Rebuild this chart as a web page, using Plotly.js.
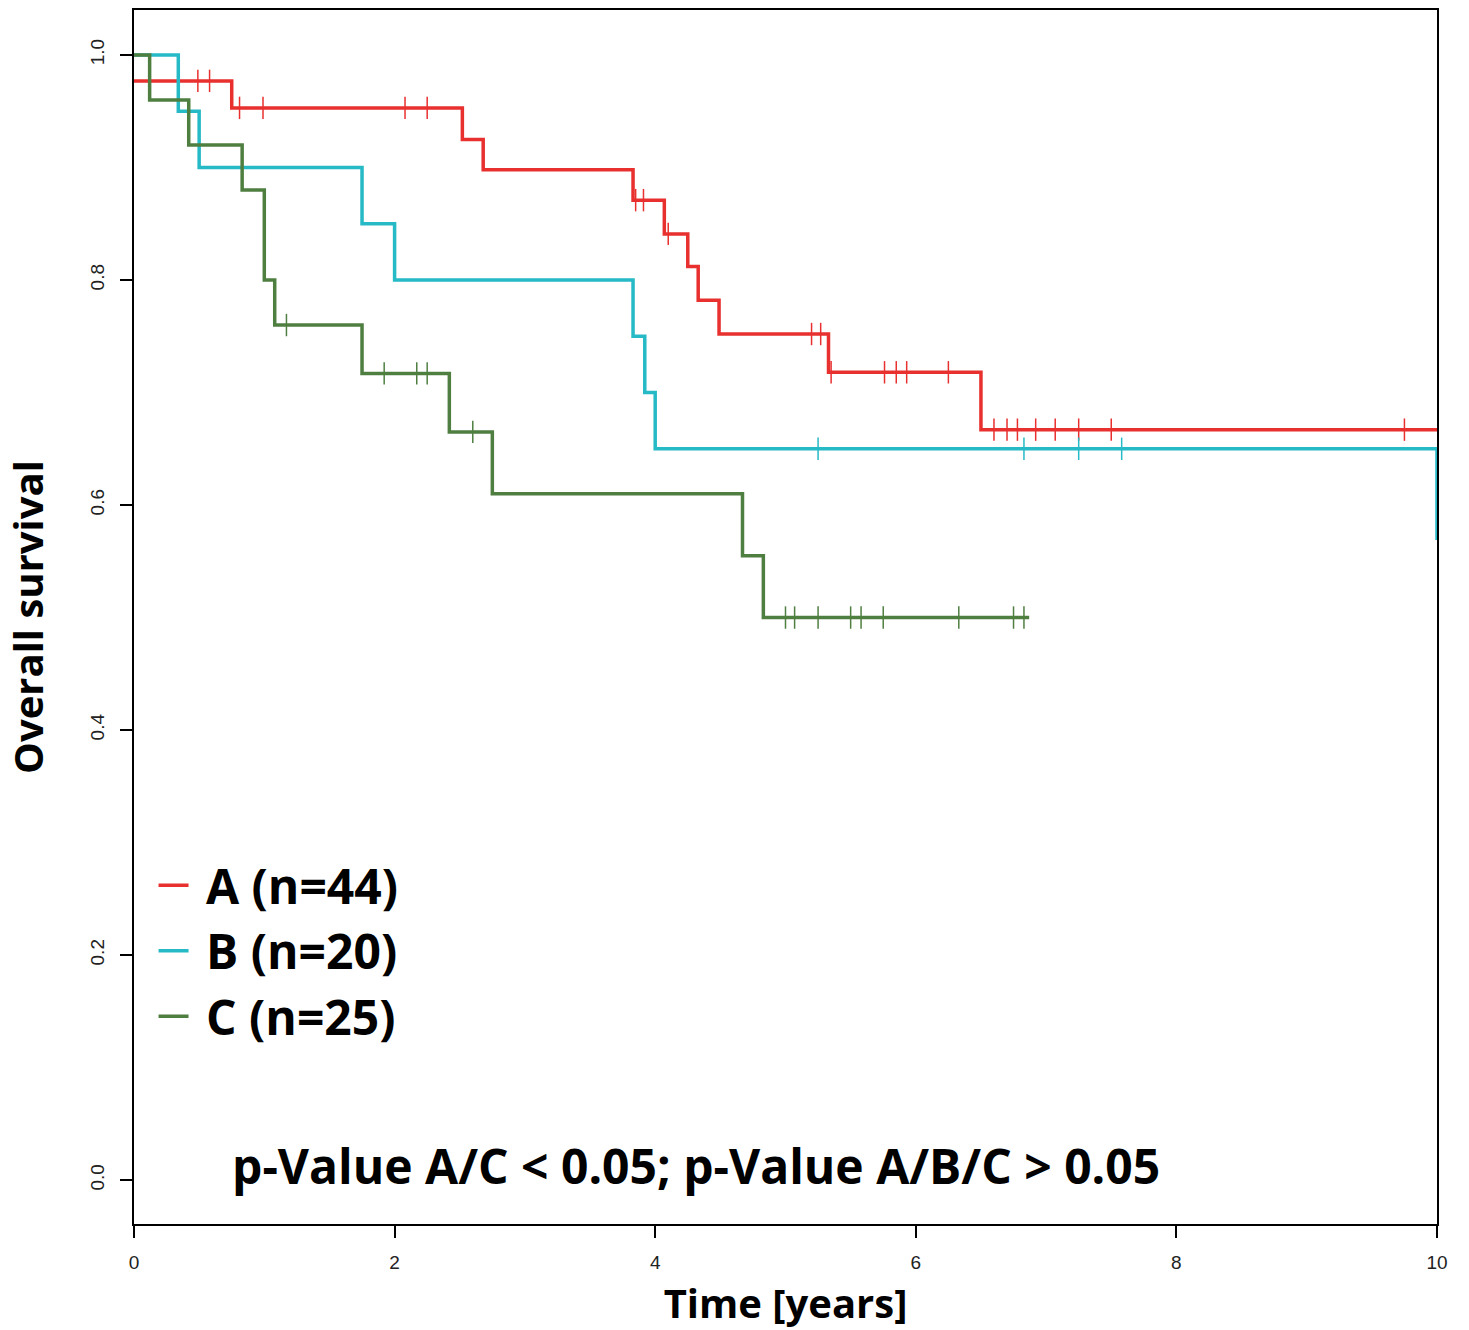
<!DOCTYPE html>
<html>
<head>
<meta charset="utf-8">
<script src="https://cdn.plot.ly/plotly-3.0.1.min.js"></script>
<style>body{margin:0;background:#fff}</style>
</head>
<body>
<div id="chart" style="width:1469px;height:1330px"></div>
<script>
// step vertices (time in years, survival)
const aTime = [0, 0.75, 2.52, 2.68, 3.83, 4.07, 4.25, 4.33, 4.49, 5.33, 6.5, 10];
const aSurv = [0.977, 0.953, 0.925, 0.898, 0.871, 0.841, 0.812, 0.782, 0.752, 0.718, 0.667, 0.667];
const aCens = [0.49, 0.58, 0.81, 0.99, 2.08, 2.25, 3.85, 3.91, 4.1, 5.2, 5.27, 5.35, 5.76, 5.85, 5.93, 6.25, 6.6, 6.7, 6.78, 6.92, 7.07, 7.25, 7.5, 9.75];

const bTime = [0, 0.34, 0.5, 1.75, 2.0, 3.83, 3.92, 4.0, 10, 10];
const bSurv = [1.0, 0.95, 0.9, 0.85, 0.8, 0.75, 0.7, 0.65, 0.65, 0.569];
const bCens = [5.25, 6.83, 7.25, 7.58];

const cTime = [0, 0.12, 0.42, 0.83, 1.0, 1.08, 1.75, 2.42, 2.75, 4.67, 4.83, 6.87];
const cSurv = [1.0, 0.96, 0.92, 0.88, 0.8, 0.76, 0.717, 0.665, 0.61, 0.555, 0.5, 0.5];
const cCens = [1.17, 1.92, 2.17, 2.25, 2.6, 5.0, 5.07, 5.25, 5.5, 5.58, 5.75, 6.33, 6.75, 6.83];

const groups = [
  { name: ' A (n=44)', t: aTime, s: aSurv, c: aCens, color: '#e8302f' },
  { name: ' B (n=20)', t: bTime, s: bSurv, c: bCens, color: '#26b9c6' },
  { name: ' C (n=25)', t: cTime, s: cSurv, c: cCens, color: '#4f7f40' },
];

function survAt(t, times, surv) {
  let v = surv[0];
  for (let i = 0; i < times.length; i++) if (times[i] <= t) v = surv[i];
  return v;
}

const traces = [];
groups.forEach(g => {
  traces.push({
    x: g.t, y: g.s, type: 'scatter', mode: 'lines', name: g.name,
    line: { color: g.color, width: 3.5, shape: 'hv' },
  });
});
groups.forEach(g => {
  traces.push({
    x: g.c, y: g.c.map(t => survAt(t, g.t, g.s)), type: 'scatter', mode: 'markers',
    showlegend: false,
    marker: { symbol: 'line-ns', size: 16, line: { color: g.color, width: 1.5 } },
  });
});

const axisBase = {
  showgrid: false, zeroline: false, showline: true, linecolor: '#000', linewidth: 2,
  mirror: true, ticks: 'outside', ticklen: 12, tickwidth: 1.5, tickcolor: '#000',
  ticklabelstandoff: 8,
  tickfont: { size: 19, color: '#222', family: 'Liberation Sans, Arial' },
};

const layout = {
  width: 1469, height: 1330,
  paper_bgcolor: '#fff', plot_bgcolor: '#fff',
  margin: { l: 134, r: 32, t: 10, b: 106 },
  font: { family: 'Open Sans, Liberation Sans, Arial', color: '#000' },
  xaxis: Object.assign({}, axisBase, {
    range: [0, 10], tickvals: [0, 2, 4, 6, 8, 10],
    title: { text: 'Time [years]', font: { size: 40, weight: 'bold' }, standoff: 18 },
  }),
  yaxis: Object.assign({}, axisBase, {
    range: [-0.039, 1.04], tickvals: [0, 0.2, 0.4, 0.6, 0.8, 1.0],
    ticktext: ['0.0', '0.2', '0.4', '0.6', '0.8', '1.0'], tickangle: -90,
    title: { text: 'Overall survival', font: { size: 40, weight: 'bold' }, standoff: 32 },
  }),
  showlegend: true,
  legend: {
    x: 0.015, y: 0.31, xanchor: 'left', yanchor: 'top', bgcolor: 'rgba(0,0,0,0)',
    font: { size: 48, weight: 'bold', color: '#000' }, tracegroupgap: 0,
  },
  annotations: [{
    xref: 'paper', yref: 'paper', x: 0.074, y: 0.048, xanchor: 'left', yanchor: 'middle',
    text: 'p-Value A/C < 0.05; p-Value A/B/C > 0.05', showarrow: false,
    font: { size: 48, weight: 'bold', color: '#000' },
  }],
};

Plotly.newPlot('chart', traces, layout, { displayModeBar: false });
</script>
</body>
</html>
